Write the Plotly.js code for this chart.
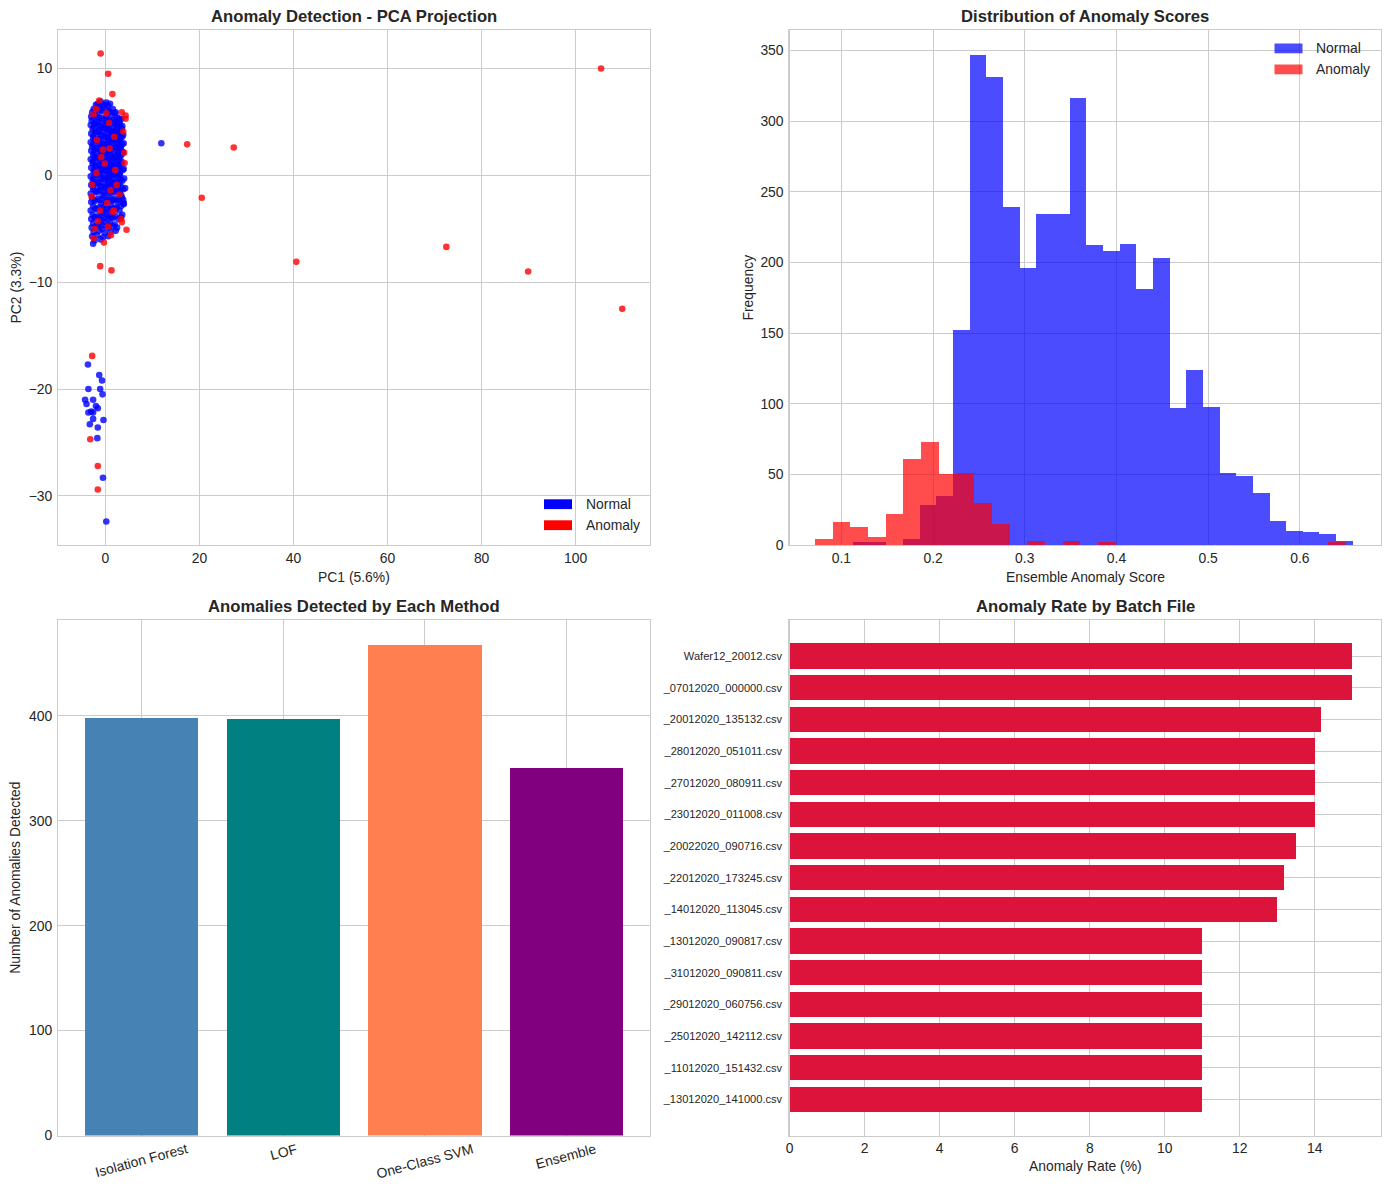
<!DOCTYPE html>
<html>
<head>
<meta charset="utf-8">
<script src="https://cdn.plot.ly/plotly-3.0.1.min.js"></script>
<style>
  html, body { margin: 0; padding: 0; background: #ffffff; }
  #chart { width: 1389px; height: 1189px; }
</style>
</head>
<body>
<div id="chart"></div>
<script>
// ---------- PCA projection (PC1, PC2) ----------
const normalPC1 = [
  -1.0, 0.2,
  -2.0, -0.5, 1.0,
  -2.5, -1.2, 0.3, 1.6,
  -2.8, -1.8, -0.6, 0.8, 2.0,
  -3.0, -2.2, -1.0, 0.2, 1.4, 2.5, 3.4,
  -2.9, -1.6, -0.3, 0.9, 2.0, 3.0,
  -3.1, -2.3, -1.2, 0.1, 1.2, 2.4, 3.6,
  -2.7, -1.5, -0.4, 0.7, 1.8, 2.9,
  -3.0, -2.1, -0.9, 0.4, 1.5, 2.6, 3.8,
  -2.6, -1.4, -0.2, 1.0, 2.1, 3.2,
  -3.1, -2.0, -0.7, 0.5, 1.7, 2.8, 3.9,
  -2.8, -1.6, -0.3, 0.9, 2.2, 3.3,
  -3.0, -2.2, -1.0, 0.3, 1.4, 2.6, 3.7,
  -2.6, -1.3, 0.0, 1.1, 2.3, 3.4,
  -3.1, -1.9, -0.6, 0.6, 1.8, 2.9,
  -2.7, -1.4, -0.1, 1.2, 2.4, 3.5,
  -3.0, -2.0, -0.8, 0.4, 1.6, 2.7, 3.9,
  -2.5, -1.2, 0.1, 1.3, 2.2, 3.1,
  -3.1, -1.8, -0.5, 0.8, 1.9, 3.0,
  -2.7, -1.5, -0.2, 1.0, 2.3, 3.6,
  -3.0, -2.1, -0.9, 0.5, 1.6, 2.7,
  -2.6, -1.3, 0.0, 1.2, 2.4, 3.8, 4.2,
  -3.1, -1.9, -0.6, 0.7, 1.8, 3.0,
  -2.8, -1.5, -0.2, 1.1, 2.2, 3.5,
  -3.0, -2.2, -0.9, 0.3, 1.5, 2.7, 3.9,
  -2.6, -1.3, 0.0, 1.3, 2.4, 3.3,
  -3.1, -1.8, -0.5, 0.8, 1.9, 3.0,
  -2.7, -1.4, -0.1, 1.0, 2.1, 3.6,
  -3.0, -2.0, -0.8, 0.5, 1.6, 2.8,
  -2.6, -1.5, -0.3, 1.0, 2.0,
  -2.9, -1.9, -0.7, 0.6, 1.7, 2.5,
  -2.5, -1.3, -0.1, 1.1, 2.2,
  -2.8, -1.8, -0.5, 0.6,
  -2.3, -1.0,
  -2.6,
  // in-between points of the dense core
  -1.6, -0.2, 0.6,
  -2.3, -0.9, 0.9, 2.2,
  -2.5, -1.4, 0.3, 1.7, 2.9,
  -2.0, -0.7, 0.5, 1.9, 3.1,
  -2.4, -1.0, 0.2, 1.4, 2.6, 3.5,
  -1.9, -0.6, 0.8, 2.0, 3.0,
  -2.5, -1.1, 0.3, 1.5, 2.7, 3.6,
  -2.2, -0.8, 0.6, 1.8, 3.0,
  -2.6, -1.2, 0.2, 1.3, 2.5, 3.6,
  -2.0, -0.6, 0.7, 1.9, 3.2,
  -2.4, -1.0, 0.4, 1.6, 2.8, 3.7,
  -2.1, -0.8, 0.5, 1.8, 3.0,
  -2.6, -1.2, 0.3, 1.5, 2.6, 3.4,
  -2.1, -0.7, 0.6, 1.7, 2.9,
  -2.4, -1.0, 0.2, 1.4, 2.7, 3.7,
  -2.0, -0.6, 0.7, 1.9, 3.1,
  -2.5, -1.1, 0.4, 1.6, 2.9, 4.0,
  -2.2, -0.8, 0.5, 1.7, 3.0,
  -2.6, -1.2, 0.1, 1.4, 2.6, 3.4,
  -2.0, -0.6, 0.6, 1.8, 3.1,
  -2.4, -1.0, 0.3, 1.5, 2.7,
  -2.1, -0.7, 0.4, 1.5, 2.3,
  -2.3, -1.0, 0.2, 1.3,
  -1.9, -0.6, 0.7,
  3.4, 3.8, 3.9, 3.3,
  // isolated normal points and the lower group
  11.9, 0.2, -3.7, -1.3, -0.7, -3.6, -1.1, -0.6, -4.3, -2.6, -4.0,
  -2.0, -1.6, -3.6, -3.0, -2.6, -2.6, -0.4, -3.3, -1.6, -1.7, -0.5
];
const normalPC2 = [
  6.9, 6.8,
  6.6, 6.5, 6.7,
  6.2, 6.3, 6.1, 6.2,
  5.9, 5.8, 6.0, 5.9, 5.8,
  5.5, 5.6, 5.4, 5.5, 5.6, 5.4, 5.3,
  5.1, 5.0, 5.2, 5.1, 5.0, 5.1,
  4.7, 4.8, 4.6, 4.7, 4.8, 4.7, 4.6,
  4.3, 4.2, 4.4, 4.3, 4.2, 4.3,
  3.9, 4.0, 3.8, 3.9, 4.0, 3.9, 3.8,
  3.5, 3.4, 3.6, 3.5, 3.4, 3.5,
  3.1, 3.2, 3.0, 3.1, 3.2, 3.1, 3.0,
  2.7, 2.6, 2.8, 2.7, 2.6, 2.7,
  2.3, 2.4, 2.2, 2.3, 2.4, 2.3, 2.2,
  1.9, 1.8, 2.0, 1.9, 1.8, 1.9,
  1.5, 1.6, 1.4, 1.5, 1.6, 1.5,
  1.1, 1.0, 1.2, 1.1, 1.0, 1.1,
  0.7, 0.8, 0.6, 0.7, 0.8, 0.7, 0.6,
  0.3, 0.2, 0.4, 0.3, 0.2, 0.3,
  -0.1, 0.0, -0.2, -0.1, 0.0, -0.1,
  -0.5, -0.6, -0.4, -0.5, -0.6, -0.5,
  -0.9, -0.8, -1.0, -0.9, -0.8, -0.9,
  -1.3, -1.4, -1.2, -1.3, -1.4, -1.3, -1.2,
  -1.7, -1.6, -1.8, -1.7, -1.6, -1.7,
  -2.1, -2.2, -2.0, -2.1, -2.2, -2.1,
  -2.5, -2.4, -2.6, -2.5, -2.4, -2.5, -2.6,
  -2.9, -3.0, -2.8, -2.9, -3.0, -2.9,
  -3.3, -3.2, -3.4, -3.3, -3.2, -3.3,
  -3.7, -3.8, -3.6, -3.7, -3.8, -3.7,
  -4.1, -4.0, -4.2, -4.1, -4.0, -4.1,
  -4.5, -4.6, -4.4, -4.5, -4.6,
  -4.9, -4.8, -5.0, -4.9, -4.8, -4.9,
  -5.3, -5.2, -5.4, -5.3, -5.2,
  -5.7, -5.6, -5.8, -5.7,
  -6.1, -6.0,
  -6.4,
  6.7, 6.6, 6.5,
  6.0, 6.1, 6.0, 5.9,
  5.3, 5.4, 5.3, 5.2, 5.3,
  4.9, 4.9, 5.0, 4.9, 4.8,
  4.5, 4.5, 4.4, 4.5, 4.5, 4.4,
  4.1, 4.1, 4.2, 4.1, 4.1,
  3.7, 3.7, 3.6, 3.7, 3.7, 3.6,
  3.3, 3.3, 3.3, 3.4, 3.3,
  2.9, 2.9, 2.9, 3.0, 2.9, 2.9,
  2.5, 2.5, 2.5, 2.6, 2.5,
  2.1, 2.1, 2.1, 2.0, 2.1, 2.1,
  1.7, 1.7, 1.7, 1.7, 1.7,
  1.3, 1.3, 1.3, 1.3, 1.3, 1.3,
  0.9, 0.9, 0.9, 0.9, 0.9,
  0.5, 0.5, 0.5, 0.5, 0.5, 0.5,
  0.1, 0.1, 0.1, 0.1, 0.1,
  -0.3, -0.3, -0.3, -0.3, -0.3, -0.3,
  -0.7, -0.7, -0.7, -0.7, -0.7,
  -1.1, -1.1, -1.1, -1.1, -1.1, -1.1,
  -1.5, -1.5, -1.5, -1.5, -1.5,
  -2.3, -2.3, -2.3, -2.3, -2.3,
  -3.1, -3.1, -3.1, -3.1, -3.1,
  -3.9, -3.9, -3.9, -3.9,
  -4.7, -4.7, -4.7,
  -1.9, -2.3, -2.7, -3.9,
  3.0, -32.4, -17.7, -18.7, -19.2, -20.0, -20.0, -20.5, -21.0, -21.0, -21.4,
  -21.6, -21.8, -22.2, -22.1, -22.2, -22.8, -22.9, -23.3, -23.6, -24.6, -28.3
];
const anomalyPC1 = [
  105.4, 109.9, 89.9, 72.5, 40.6, 27.3, 17.4, 20.5, -1.0, 0.6, 1.5,
  -1.1, 1.3, -0.3, -2.5, 4.5, 3.4, 3.5, 3.5, 4.3, 4.3, 3.8, 4.0, 4.1,
  -2.0, -1.3, -2.8, -3.2, -1.6, -1.6,
  -0.9, -0.1, -1.9, 2.1, 1.1, -2.8, 0.4, -1.1, 1.6, 0.6, 0.9, -0.5,
  1.8, -2.5, 0.8, -1.8, 1.9, -2.9, 2.4, -1.6, 0.2, 3.0, -2.2, 1.2
];
const anomalyPC2 = [
  10.0, -12.5, -9.0, -6.7, -8.1, 2.6, 2.9, -2.1, 11.4, 9.5, 7.6,
  -8.5, -8.9, -6.3, -5.9, -5.1, -4.1, -4.4, 5.9, 5.6, 5.3, 4.1, 2.1, 1.15,
  6.2, 7.0, -16.9, -24.7, -27.2, -29.4,
  1.7, 1.1, 0.2, 0.5, -1.4, -0.9, -2.6, -3.3, -3.4, -4.8, 2.5, 2.4,
  -3.3, 5.7, 4.9, 3.3, 3.6, -2.0, -0.9, -4.3, 5.8, -1.8, -5.0, -5.6
];

// ---------- Ensemble anomaly score histograms ----------
const normalBinStart = 0.1127;
const normalBinWidth = 0.01817;
const normalCounts = [2, 2, 0, 4, 28, 35, 152, 347, 331, 239, 196, 234, 234, 316, 212,
                      208, 213, 181, 203, 97, 124, 98, 51, 49, 37, 17, 10, 9, 8, 3];
const anomalyBinStart = 0.0711;
const anomalyBinWidth = 0.0193;
const anomalyCounts = [4, 16, 13, 6, 22, 61, 73, 50, 51, 30, 15, 0, 3, 0, 3,
                       0, 2, 0, 0, 0, 0, 0, 0, 0, 0, 0, 0, 0, 0, 2];

// ---------- Detections per method ----------
const methods = ['Isolation Forest', 'LOF', 'One-Class SVM', 'Ensemble'];
const methodCounts = [398, 397, 468, 350];
const methodColors = ['#4682B4', '#008080', '#FF7F50', '#800080'];

// ---------- Anomaly rate per batch file ----------
const batchFiles = [
  'Wafer12_20012.csv', '_07012020_000000.csv', '_20012020_135132.csv',
  '_28012020_051011.csv', '_27012020_080911.csv', '_23012020_011008.csv',
  '_20022020_090716.csv', '_22012020_173245.csv', '_14012020_113045.csv',
  '_13012020_090817.csv', '_31012020_090811.csv', '_29012020_060756.csv',
  '_25012020_142112.csv', '_11012020_151432.csv', '_13012020_141000.csv'
];
const batchRates = [15, 15, 14.17, 14, 14, 14, 13.5, 13.17, 13, 11, 11, 11, 11, 11, 11];

// ---------- figure geometry ----------
const W = 1389, H = 1189;
const FONT = 'Liberation Sans, Arial, Helvetica, sans-serif';
const INK = '#262626';
const GRID = '#cccccc';
const px = v => v / W;
const py = v => 1 - v / H;

const colL = [px(58.3), px(650)];
const colR = [px(789.6), px(1380.5)];
const rowT = [py(545), py(30)];
const rowB = [py(1135.5), py(620)];

const binCenters = (start, width, counts) => counts.map((_, i) => start + (i + 0.5) * width);

const traces = [
  {
    type: 'scatter', mode: 'markers', x: normalPC1, y: normalPC2,
    xaxis: 'x', yaxis: 'y', name: 'Normal', showlegend: false,
    marker: { color: 'blue', size: 6.6, opacity: 0.8, line: { width: 0 } }
  },
  {
    type: 'scatter', mode: 'markers', x: anomalyPC1, y: anomalyPC2,
    xaxis: 'x', yaxis: 'y', name: 'Anomaly', showlegend: false,
    marker: { color: 'red', size: 6.6, opacity: 0.8, line: { width: 0 } }
  },
  {
    type: 'bar', x: binCenters(normalBinStart, normalBinWidth, normalCounts), y: normalCounts,
    width: normalBinWidth, xaxis: 'x2', yaxis: 'y2', name: 'Normal', showlegend: false,
    marker: { color: 'blue', opacity: 0.7, line: { width: 0 } }
  },
  {
    type: 'bar', x: binCenters(anomalyBinStart, anomalyBinWidth, anomalyCounts), y: anomalyCounts,
    width: anomalyBinWidth, xaxis: 'x2', yaxis: 'y2', name: 'Anomaly', showlegend: false,
    marker: { color: 'red', opacity: 0.7, line: { width: 0 } }
  },
  {
    type: 'bar', x: methods, y: methodCounts, width: 0.8,
    xaxis: 'x3', yaxis: 'y3', showlegend: false,
    marker: { color: methodColors, line: { width: 0 } }
  },
  {
    type: 'bar', orientation: 'h', x: batchRates, y: batchFiles, width: 0.8,
    xaxis: 'x4', yaxis: 'y4', showlegend: false,
    marker: { color: '#DC143C', line: { width: 0 } }
  }
];

const tickFont = { family: FONT, size: 13.9, color: INK };
const labelFont = { family: FONT, size: 13.9, color: INK };
const base = {
  showgrid: true, gridcolor: GRID, gridwidth: 1, zeroline: false,
  showline: true, linecolor: GRID, linewidth: 1.25, mirror: true,
  ticks: '', tickfont: tickFont, automargin: false
};

const layout = {
  width: W, height: H,
  margin: { l: 0, r: 0, t: 0, b: 0, pad: 0 },
  paper_bgcolor: '#ffffff', plot_bgcolor: '#ffffff',
  font: { family: FONT, color: INK },
  barmode: 'overlay', bargap: 0,
  showlegend: false,
  xaxis: Object.assign({}, base, {
    domain: colL, anchor: 'y', range: [-10, 115.8], tickvals: [0, 20, 40, 60, 80, 100]
  }),
  yaxis: Object.assign({}, base, {
    domain: rowT, anchor: 'x', range: [-34.6, 13.6], tickvals: [-30, -20, -10, 0, 10],
    ticklabelstandoff: 2
  }),
  xaxis2: Object.assign({}, base, {
    domain: colR, anchor: 'y2', range: [0.0435, 0.688], tickvals: [0.1, 0.2, 0.3, 0.4, 0.5, 0.6]
  }),
  yaxis2: Object.assign({}, base, {
    domain: rowT, anchor: 'x2', range: [0, 364.4], tickvals: [0, 50, 100, 150, 200, 250, 300, 350],
    ticklabelstandoff: 2
  }),
  xaxis3: Object.assign({}, base, {
    domain: colL, anchor: 'y3', type: 'category', range: [-0.59, 3.59],
    showticklabels: false
  }),
  yaxis3: Object.assign({}, base, {
    domain: rowB, anchor: 'x3', range: [0, 491.4], tickvals: [0, 100, 200, 300, 400],
    ticklabelstandoff: 2
  }),
  xaxis4: Object.assign({}, base, {
    domain: colR, anchor: 'y4', range: [0, 15.75], tickvals: [0, 2, 4, 6, 8, 10, 12, 14]
  }),
  yaxis4: Object.assign({}, base, {
    domain: rowB, anchor: 'x4', type: 'category', range: [15.14, -1.14],
    tickfont: { family: FONT, size: 11.1, color: INK }, ticklabelstandoff: 4
  }),
  shapes: [],
  annotations: []
};

// subplot titles
const titleStyle = { family: FONT, size: 16.67, color: INK, weight: 'bold' };
[
  ['Anomaly Detection - PCA Projection', (58.3 + 650) / 2, 16.5],
  ['Distribution of Anomaly Scores', (789.6 + 1380.5) / 2, 16.5],
  ['Anomalies Detected by Each Method', (58.3 + 650) / 2, 606.5],
  ['Anomaly Rate by Batch File', (789.6 + 1380.5) / 2, 606.5]
].forEach(([text, cx, cy]) => {
  layout.annotations.push({
    text, xref: 'paper', yref: 'paper', x: px(cx), y: py(cy),
    xanchor: 'center', yanchor: 'middle', showarrow: false, font: titleStyle
  });
});

// axis labels
[
  ['PC1 (5.6%)', (58.3 + 650) / 2, 577, 0],
  ['PC2 (3.3%)', 15, (30 + 545) / 2, -90],
  ['Ensemble Anomaly Score', (789.6 + 1380.5) / 2, 577, 0],
  ['Frequency', 747, (30 + 545) / 2, -90],
  ['Number of Anomalies Detected', 15, (620 + 1135.5) / 2, -90],
  ['Anomaly Rate (%)', (789.6 + 1380.5) / 2, 1166, 0]
].forEach(([text, cx, cy, angle]) => {
  layout.annotations.push({
    text, xref: 'paper', yref: 'paper', x: px(cx), y: py(cy),
    xanchor: 'center', yanchor: 'middle', textangle: angle, showarrow: false,
    font: labelFont
  });
});

// rotated method labels under the bar chart
methods.forEach(m => {
  layout.annotations.push({
    text: m, xref: 'x3', yref: 'paper', x: m, y: py(1138),
    xanchor: 'center', yanchor: 'top', textangle: -15, showarrow: false,
    font: tickFont
  });
});

// legend boxes drawn as patches with labels
const legendFont = { family: FONT, size: 13.9, color: INK };
function legendEntry(x0, y0, color, label) {
  layout.shapes.push({
    type: 'rect', xref: 'paper', yref: 'paper',
    x0: px(x0), x1: px(x0 + 28), y0: py(y0), y1: py(y0 + 9.8),
    fillcolor: color, line: { width: 0 }
  });
  layout.annotations.push({
    text: label, xref: 'paper', yref: 'paper', x: px(x0 + 39.5), y: py(y0 + 4.9),
    xanchor: 'left', yanchor: 'middle', showarrow: false, font: legendFont
  });
}
legendEntry(544, 499.3, 'blue', 'Normal');
legendEntry(544, 520.3, 'red', 'Anomaly');
legendEntry(1274.5, 43.5, 'rgba(0,0,255,0.7)', 'Normal');
legendEntry(1274.5, 64.5, 'rgba(255,0,0,0.7)', 'Anomaly');

Plotly.newPlot('chart', traces, layout, { displayModeBar: false, staticPlot: true });
</script>
</body>
</html>
